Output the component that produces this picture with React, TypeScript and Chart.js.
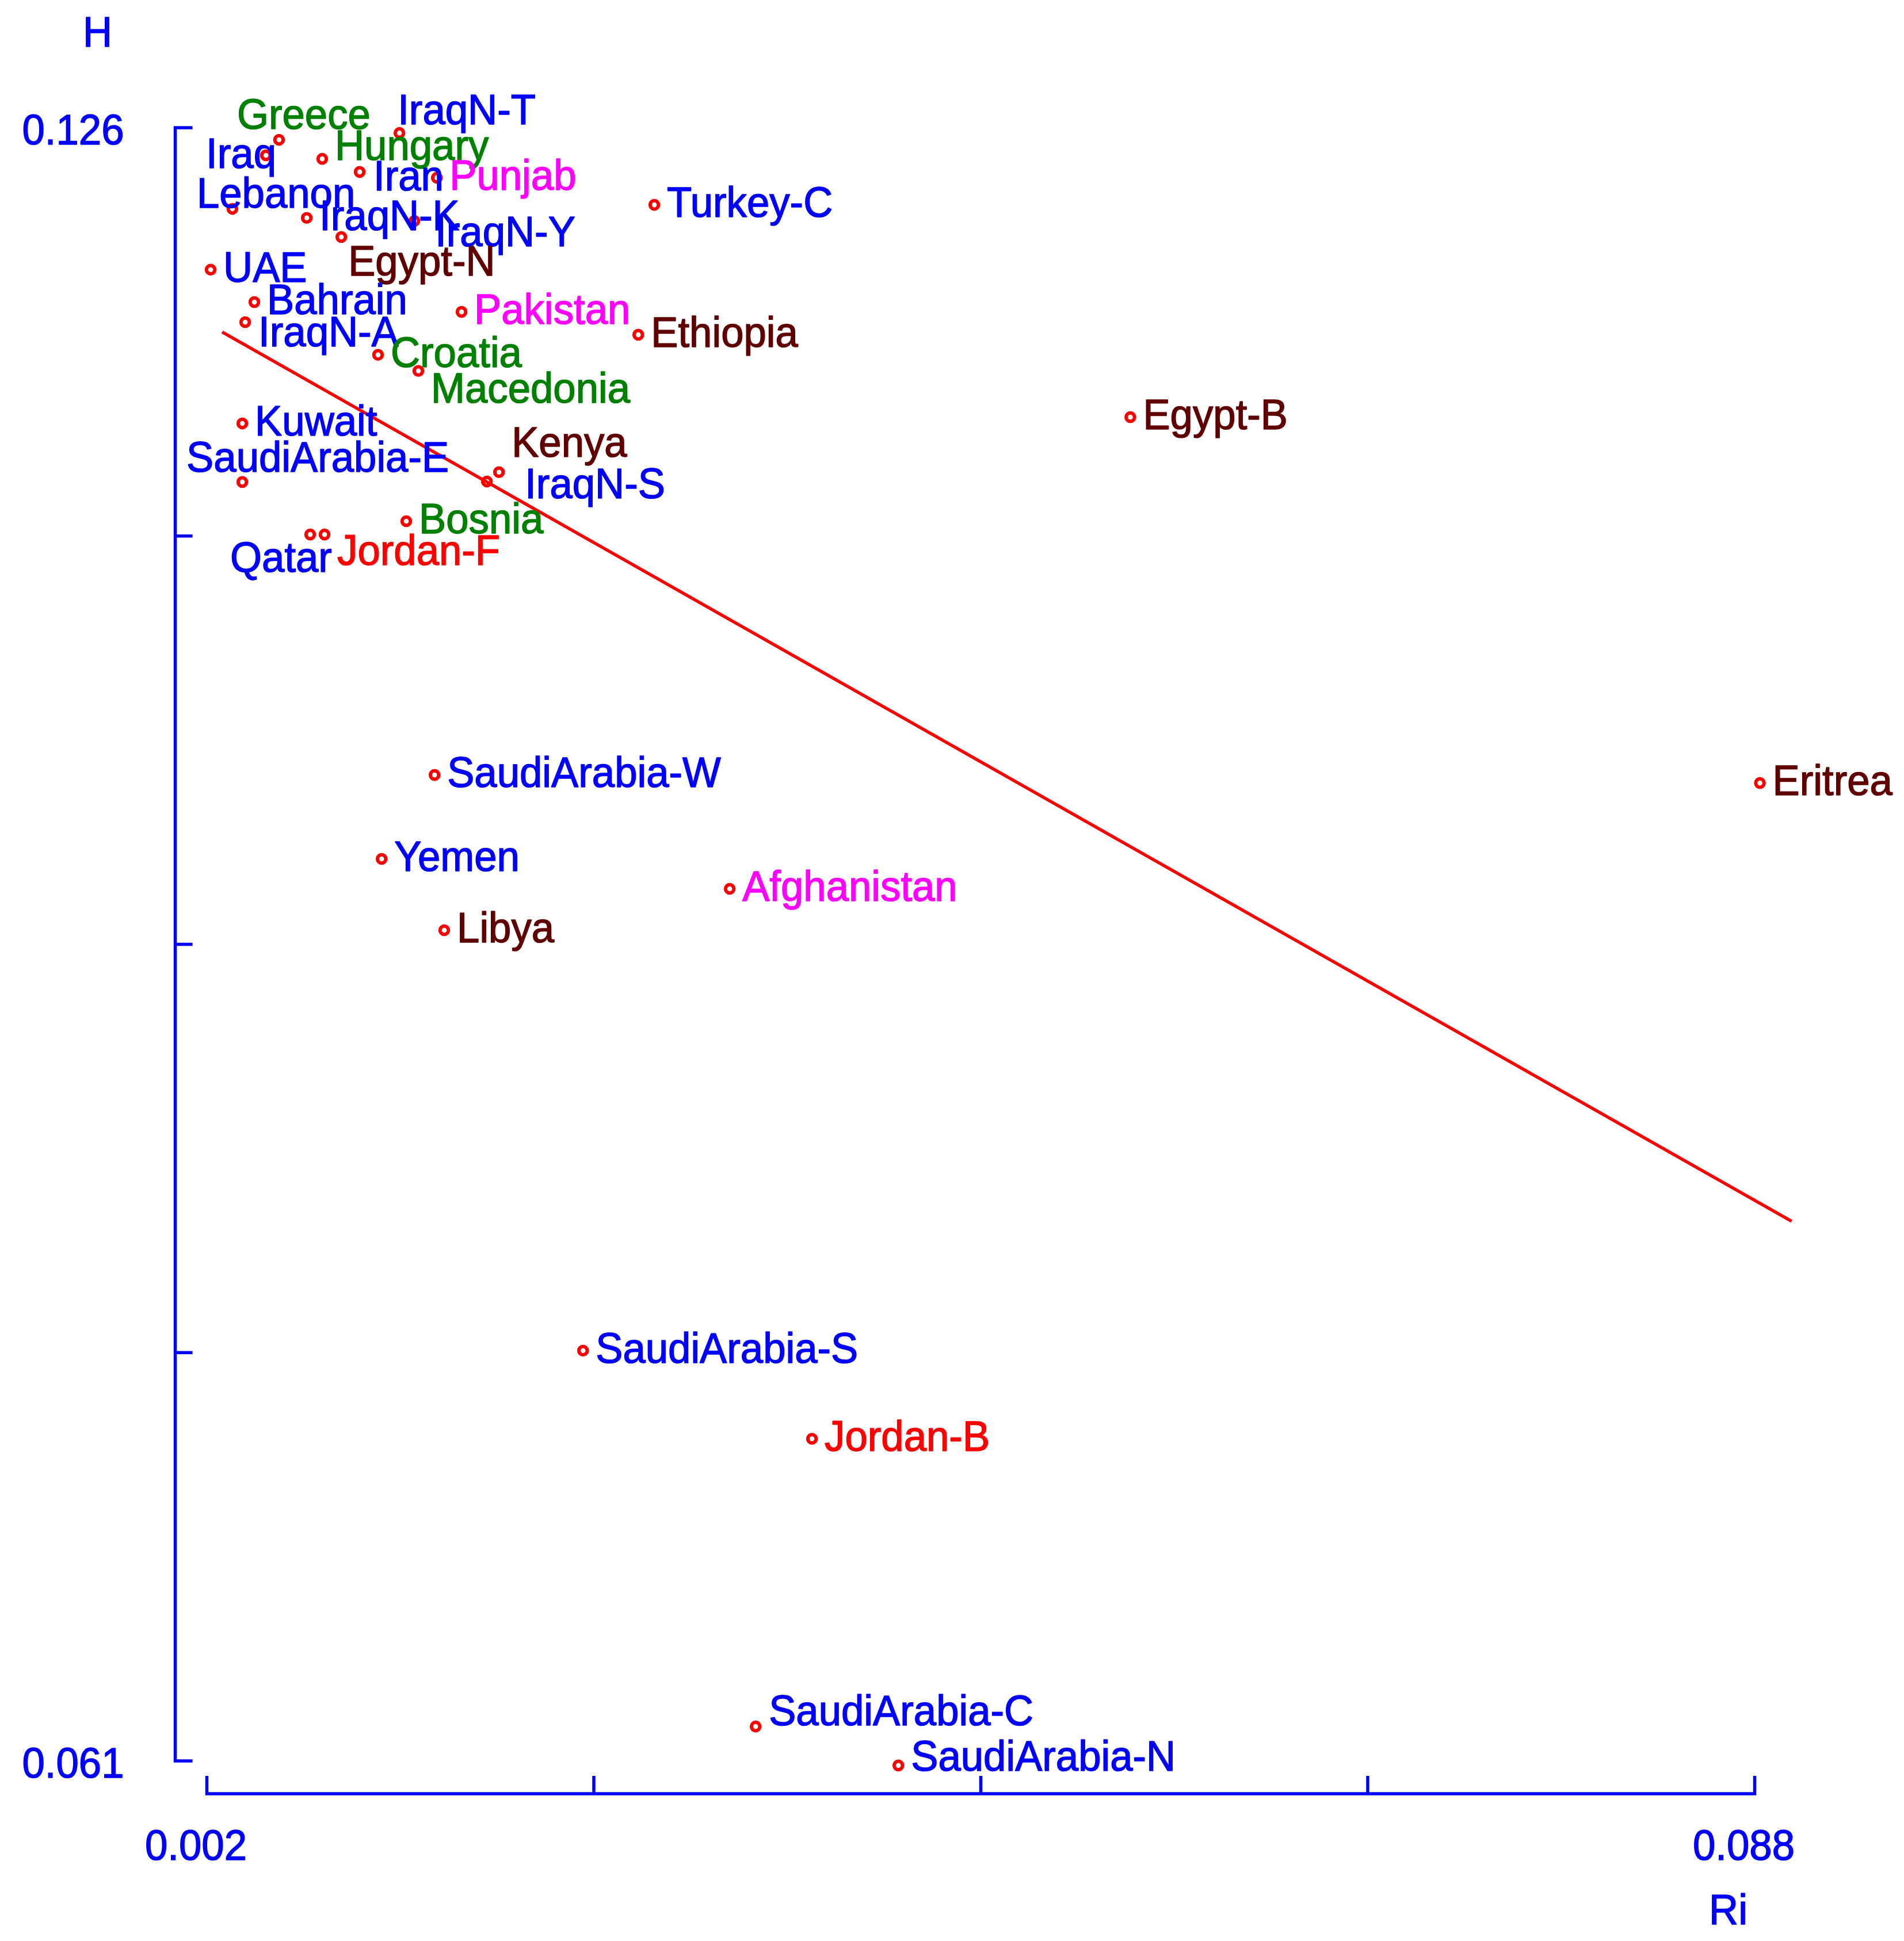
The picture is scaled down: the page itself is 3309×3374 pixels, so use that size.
import React, { useEffect, useRef } from "react";
import { Chart, registerables, Plugin } from "chart.js";

Chart.register(...registerables);

// populations, Ri (x) and H (y)
const populations = [
  "Greece", "IraqN-T", "Iraq", "Hungary", "Iran", "Punjab", "Lebanon", "IraqN-K",
  "IraqN-Y", "Egypt-N", "UAE", "Bahrain", "Pakistan", "IraqN-A", "Croatia", "Macedonia",
  "Kuwait", "SaudiArabia-E", "Kenya", "IraqN-S", "Bosnia", "Qatar", "Jordan-F", "Turkey-C",
  "Ethiopia", "Egypt-B", "Eritrea", "SaudiArabia-W", "Yemen", "Afghanistan", "Libya",
  "SaudiArabia-S", "Jordan-B", "SaudiArabia-C", "SaudiArabia-N",
];
const riValues = [
  0.00601, 0.0127, 0.00528, 0.00841, 0.01049, 0.01478, 0.00342, 0.00755,
  0.01353, 0.00947, 0.00221, 0.00464, 0.01615, 0.00413, 0.01151, 0.01375,
  0.00397, 0.00397, 0.01823, 0.01756, 0.01308, 0.00774, 0.00854, 0.02686,
  0.02597, 0.05331, 0.08829, 0.01465, 0.01171, 0.03105, 0.01519,
  0.0229, 0.03562, 0.03249, 0.04042,
];
const hValues = [
  0.12552, 0.12579, 0.1249, 0.12476, 0.12424, 0.12401, 0.12277, 0.12241,
  0.12229, 0.12165, 0.12035, 0.11906, 0.11867, 0.11826, 0.11696, 0.11632,
  0.11423, 0.1119, 0.11229, 0.11192, 0.11034, 0.10981, 0.10981, 0.12293,
  0.11776, 0.11448, 0.09992, 0.10024, 0.0969, 0.09571, 0.09406,
  0.07733, 0.07382, 0.06237, 0.06082,
];
const groups = [
  "europe", "mideast", "mideast", "europe", "mideast", "southasia", "mideast", "mideast",
  "mideast", "africa", "mideast", "mideast", "southasia", "mideast", "europe", "europe",
  "mideast", "mideast", "africa", "mideast", "europe", "mideast", "jordan", "mideast",
  "africa", "africa", "africa", "mideast", "mideast", "southasia", "africa",
  "mideast", "jordan", "mideast", "mideast",
];

// regression line end points
const fitRi = [0.00285, 0.09005];
const fitH = [0.11787, 0.08248];

// axis ticks
const xTicks = [0.002, 0.0235, 0.045, 0.0665, 0.088];
const xTickLabels = ["0.002", "", "", "", "0.088"];
const yTicks = [0.126, 0.10975, 0.0935, 0.07725, 0.061];
const yTickLabels = ["0.126", "", "", "", "0.061"];

const groupColors: Record<string, string> = {
  mideast: "#0000ff",
  europe: "#008000",
  southasia: "#ff00ff",
  africa: "#600000",
  jordan: "#ff0000",
};

// label placement (px from the point: left edge, middle of capitals)
const labelOffsets: Record<string, [number, number]> = {
  Greece: [-73, -46],
  "IraqN-T": [-3, -42],
  Iraq: [-104, -5],
  Hungary: [22, -25],
  Iran: [24, 5],
  Lebanon: [-62, -29],
  "IraqN-Y": [36, 17],
  "Egypt-N": [12, 40],
  "IraqN-A": [23, 15],
  Macedonia: [22, 28],
  "SaudiArabia-E": [-97, -45],
  Kenya: [22, -54],
  "IraqN-S": [66, 2],
  Qatar: [-139, 38],
  "Jordan-F": [22, 26],
  "SaudiArabia-C": [23, -29],
  "SaudiArabia-N": [22, -18],
};

const W = 3309;
const H = 3374;
const FONT_SIZE = 75;
const FONT = `${FONT_SIZE}px "Liberation Sans", Arial, sans-serif`;
const SQUEEZE = 0.943;
const CAP_HALF = FONT_SIZE * 0.358;
const BLUE = "#0000ff";

const drawText = (
  ctx: CanvasRenderingContext2D,
  text: string,
  x: number,
  capMid: number,
  align: CanvasTextAlign,
  color: string
) => {
  ctx.save();
  ctx.translate(x, capMid + CAP_HALF);
  ctx.scale(SQUEEZE, 1);
  ctx.font = FONT;
  ctx.fillStyle = color;
  ctx.strokeStyle = color;
  ctx.lineWidth = 1.5;
  ctx.lineJoin = "round";
  ctx.textAlign = align;
  ctx.textBaseline = "alphabetic";
  ctx.fillText(text, 0, 0);
  ctx.strokeText(text, 0, 0);
  ctx.restore();
};

const axesPlugin: Plugin<"scatter"> = {
  id: "detachedAxes",
  afterDatasetsDraw(chart) {
    const { ctx } = chart;
    const xs = chart.scales.x;
    const ys = chart.scales.y;

    // point labels
    populations.forEach((name, i) => {
      const px = xs.getPixelForValue(riValues[i]);
      const py = ys.getPixelForValue(hValues[i]);
      const [dx, dy] = labelOffsets[name] ?? [22, -6];
      drawText(ctx, name, px + dx, py + dy, "left", groupColors[groups[i]]);
    });

    const lw = 5.5;
    const axisX = xs.getPixelForValue(xTicks[0]) - 55;
    const axisY = ys.getPixelForValue(yTicks[yTicks.length - 1]) + 57;
    const yTop = ys.getPixelForValue(yTicks[0]);
    const yBot = ys.getPixelForValue(yTicks[yTicks.length - 1]);
    const xLeft = xs.getPixelForValue(xTicks[0]);
    const xRight = xs.getPixelForValue(xTicks[xTicks.length - 1]);

    ctx.save();
    ctx.strokeStyle = BLUE;
    ctx.lineWidth = lw;
    ctx.lineCap = "butt";
    ctx.beginPath();
    ctx.moveTo(axisX, yTop - lw / 2);
    ctx.lineTo(axisX, yBot + lw / 2);
    yTicks.forEach((v) => {
      const py = ys.getPixelForValue(v);
      ctx.moveTo(axisX - lw / 2, py);
      ctx.lineTo(axisX + 30, py);
    });
    ctx.moveTo(xLeft - lw / 2, axisY);
    ctx.lineTo(xRight + lw / 2, axisY);
    xTicks.forEach((v) => {
      const px = xs.getPixelForValue(v);
      ctx.moveTo(px, axisY + lw / 2);
      ctx.lineTo(px, axisY - 31);
    });
    ctx.stroke();
    ctx.restore();

    yTicks.forEach((v, i) => {
      if (yTickLabels[i]) drawText(ctx, yTickLabels[i], axisX - 89, ys.getPixelForValue(v) + 2, "right", BLUE);
    });
    xTicks.forEach((v, i) => {
      if (xTickLabels[i]) drawText(ctx, xTickLabels[i], xs.getPixelForValue(v) - 19, axisY + 88, "center", BLUE);
    });

    // axis titles
    drawText(ctx, "H", axisX - 135, yTop - 168, "center", BLUE);
    drawText(ctx, "Ri", xRight - 46, axisY + 200, "center", BLUE);
  },
};

const App: React.FC = () => {
  const canvasRef = useRef<HTMLCanvasElement | null>(null);

  useEffect(() => {
    const ctx = canvasRef.current?.getContext("2d");
    if (!ctx) return;

    const chart = new Chart(ctx, {
      type: "scatter",
      data: {
        datasets: [
          {
            label: "fit",
            type: "line",
            data: fitRi.map((x, i) => ({ x, y: fitH[i] })),
            borderColor: "#ff0000",
            borderWidth: 5.5,
            pointRadius: 0,
            fill: false,
            clip: false,
          } as any,
          {
            label: "populations",
            data: riValues.map((x, i) => ({ x, y: hValues[i] })),
            pointRadius: 7.3,
            pointBorderWidth: 6,
            pointBorderColor: "#ff0000",
            pointBackgroundColor: "rgba(255,255,255,0)",
            clip: false,
          },
        ],
      },
      options: {
        animation: false,
        responsive: true,
        maintainAspectRatio: false,
        devicePixelRatio: 1,
        events: [],
        layout: {
          padding: { left: 359.5, right: W - 3049.5, top: 222, bottom: H - 3061 },
        },
        plugins: {
          legend: { display: false },
          tooltip: { enabled: false },
        },
        scales: {
          x: { type: "linear", min: xTicks[0], max: xTicks[xTicks.length - 1], display: false },
          y: { type: "linear", min: yTicks[yTicks.length - 1], max: yTicks[0], display: false },
        },
      },
      plugins: [axesPlugin],
    });

    return () => {
      chart.destroy();
    };
  }, []);

  return (
    <div style={{ position: "absolute", left: 0, top: 0, width: W, height: H, background: "#fff" }}>
      <canvas ref={canvasRef} />
    </div>
  );
};

export default App;
